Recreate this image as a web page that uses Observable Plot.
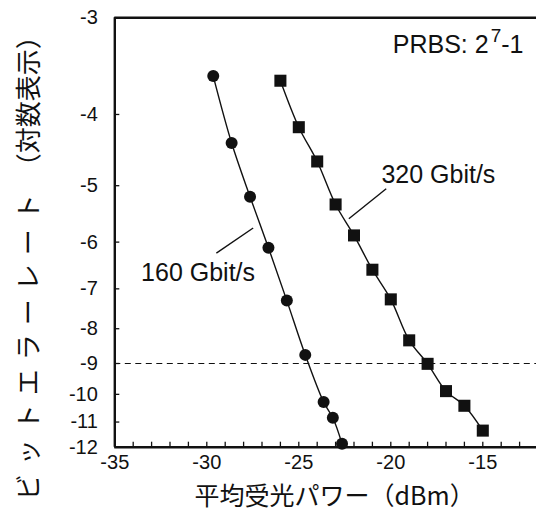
<!DOCTYPE html>
<html><head><meta charset="utf-8">
<script src="https://cdn.jsdelivr.net/npm/d3@7"></script>
<script src="https://cdn.jsdelivr.net/npm/@observablehq/plot@0.6"></script>
<style>html,body{margin:0;padding:0;background:#fff;overflow:hidden}</style>
</head><body><div id="chart"></div>
<script>
// --- data ---
const power160 = [-29.65, -28.65, -27.65, -26.65, -25.65, -24.65, -23.65, -23.15, -22.65];
const ber160   = [-3.56, -4.37, -5.18, -6.11, -7.28, -8.74, -10.27, -10.84, -11.86];
const power320 = [-26, -25, -24, -23, -22, -21, -20, -19, -18, -17, -16, -15];
const ber320   = [-3.61, -4.16, -4.63, -5.31, -5.87, -6.57, -7.25, -8.32, -9.01, -9.89, -10.40, -11.33];
const yTicks = [-3, -4, -5, -6, -7, -8, -9, -10, -11, -12];
const xTicks = [-35, -30, -25, -20, -15];
const xMinorTicks = [-35,-34,-33,-32,-31,-30,-29,-28,-27,-26,-25,-24,-23,-22,-21,-20,-19,-18,-17,-16,-15,-14,-13];
const threshold = [-9];
const annotations = [
  {x: -20.51, y: -4.83, label: "320 Gbit/s"},
  {x: -33.57, y: -6.64, label: "160 Gbit/s"}
];
const leaders = [
  {x1: -22.28, y1: -5.56, x2: -20.25, y2: -5.05},
  {x1: -29.48, y1: -6.22, x2: -27.48, y2: -5.73}
];
const prbs = [{x: -12.79, y: -3.25, label: "PRBS: 27-1"}];
const xLabel = "平均受光パワー（dBm）";
const yLabelA = "ビットエラーレート";
const yLabelB = "（対数表示）";

// BER axis transform (log of -log BER, offset)
const yT = v => Math.log10(-v - 0.65);
const yInv = t => Math.round(-(Math.pow(10, t) + 0.65));

const data160 = power160.map((p, i) => ({p, b: ber160[i]}));
const data320 = power320.map((p, i) => ({p, b: ber320[i]}));

const W = 536, H = 514;
const mLeft = 114.3, mTop = 17.3, frameBottom = 446.7;
const ink = "#111";
const latin = "'Liberation Sans', Arial, Helvetica, sans-serif";
const cjk = "'Noto Sans CJK JP', 'Noto Sans', sans-serif";

const chart = Plot.plot({
  width: W, height: H,
  marginLeft: mLeft, marginRight: 0, marginTop: mTop, marginBottom: H - frameBottom,
  x: {domain: [-35, -35 + (W - mLeft) / 18.4]},
  y: {domain: [yT(-12), yT(-3)]},
  style: {fontFamily: latin, fontSize: "20px", color: ink, background: "#fff"},
  marks: [
    Plot.ruleY(threshold, {y: yT, stroke: ink, strokeWidth: 1, strokeDasharray: "6,4.5"}),
    Plot.axisX(xMinorTicks, {anchor: "bottom", tickSize: -5, text: null, label: null, stroke: ink, strokeWidth: 1.3}),
    Plot.axisX(xTicks, {anchor: "bottom", tickSize: 0, tickPadding: 8, label: null, fontSize: 20, fill: ink, tickFormat: d => String(d)}),
    Plot.axisY(yTicks.map(yT), {anchor: "left", tickSize: -5, text: null, label: null, stroke: ink, strokeWidth: 1.3}),
    Plot.axisY(yTicks.map(yT), {anchor: "left", tickSize: 0, tickPadding: 17, label: null, fontSize: 20, fill: ink, tickFormat: t => String(yInv(t))}),
    Plot.ruleX([-35], {stroke: ink, strokeWidth: 2.4}),
    Plot.ruleY([-3, -12], {y: yT, stroke: ink, strokeWidth: 2.4}),
    Plot.line(data160, {x: "p", y: d => yT(d.b), curve: "catmull-rom", stroke: ink, strokeWidth: 1.4}),
    Plot.line(data320, {x: "p", y: d => yT(d.b), curve: "catmull-rom", stroke: ink, strokeWidth: 1.4}),
    Plot.dot(data160, {x: "p", y: d => yT(d.b), r: 6, fill: ink, stroke: "none"}),
    Plot.dot(data320, {x: "p", y: d => yT(d.b), symbol: "square", r: 6.8, fill: ink, stroke: "none"}),
    Plot.link(leaders, {x1: "x1", y1: d => yT(d.y1), x2: "x2", y2: d => yT(d.y2), stroke: ink, strokeWidth: 1.4}),
    Plot.text(annotations, {x: "x", y: d => yT(d.y), text: "label", textAnchor: "start", fontSize: 25, fill: ink}),
    Plot.text(prbs, {x: "x", y: d => yT(d.y), text: "label", textAnchor: "end", fontSize: 25, fill: ink}),
    Plot.text([xLabel], {text: d => d, frameAnchor: "bottom", dx: 9, dy: 58, fontSize: 25, fontFamily: cjk, fill: ink}),
    Plot.text([yLabelA], {text: d => d, frameAnchor: "bottom-left", rotate: -90, textAnchor: "start", dx: -77, dy: 53, fontSize: 26, fontFamily: cjk, fill: ink}),
    Plot.text([yLabelB], {text: d => d, frameAnchor: "bottom-left", rotate: -90, textAnchor: "start", dx: -77, dy: -268, fontSize: 26, fontFamily: cjk, fill: ink})
  ]
});

document.getElementById("chart").appendChild(chart);

// letter spacing on the katakana part of the y label
d3.select(chart).selectAll("text").filter(function(){ return this.textContent === yLabelA; })
  .attr("letter-spacing", 9);

// superscript exponent in the PRBS note
d3.select(chart).selectAll("text").filter(function(){ return this.textContent === "PRBS: 27-1"; })
  .each(function(){
    const t = d3.select(this);
    t.text(null);
    t.append("tspan").text("PRBS: 2");
    t.append("tspan").attr("font-size", 19).attr("dx", 2).attr("dy", -11).text("7");
    t.append("tspan").attr("dy", 11).text("-1");
  });
</script>
</body></html>
